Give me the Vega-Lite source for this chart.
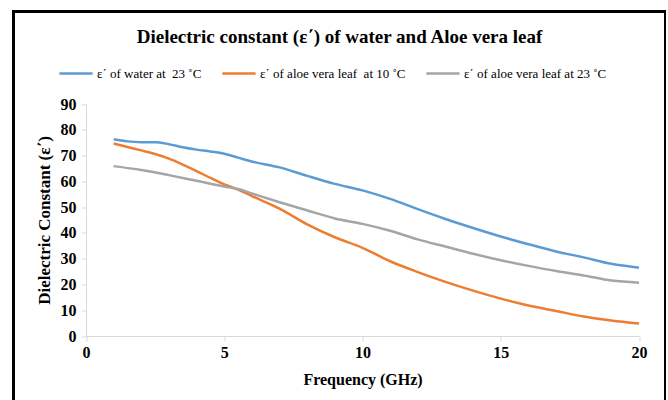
{
  "$schema": "https://vega.github.io/schema/vega-lite/v6.json",
  "width": 652,
  "height": 400,
  "autosize": {"type": "none"},
  "padding": {"left": 13.5, "top": 11.5, "right": 0, "bottom": 0},
  "background": "white",
  "title": {
    "text": "Dielectric constant (ε΄) of water and Aloe vera leaf",
    "font": "Liberation Serif",
    "fontSize": 19,
    "fontWeight": "bold",
    "color": "black",
    "anchor": "middle",
    "frame": "group",
    "offset": -35
  },
  "config": {
    "view": {"stroke": "black", "strokeWidth": 3},
    "font": "Liberation Serif"
  },
  "data": {
    "values": [
      {"f": 1, "v": 76.3, "s": "ε΄ of water at\u00a0 23 ˚C"},
      {"f": 1.5, "v": 75.5, "s": "ε΄ of water at\u00a0 23 ˚C"},
      {"f": 2, "v": 75.2, "s": "ε΄ of water at\u00a0 23 ˚C"},
      {"f": 2.5, "v": 75.2, "s": "ε΄ of water at\u00a0 23 ˚C"},
      {"f": 3, "v": 74.4, "s": "ε΄ of water at\u00a0 23 ˚C"},
      {"f": 3.5, "v": 73.2, "s": "ε΄ of water at\u00a0 23 ˚C"},
      {"f": 4, "v": 72.3, "s": "ε΄ of water at\u00a0 23 ˚C"},
      {"f": 4.5, "v": 71.6, "s": "ε΄ of water at\u00a0 23 ˚C"},
      {"f": 5, "v": 70.7, "s": "ε΄ of water at\u00a0 23 ˚C"},
      {"f": 5.5, "v": 69.2, "s": "ε΄ of water at\u00a0 23 ˚C"},
      {"f": 6, "v": 67.7, "s": "ε΄ of water at\u00a0 23 ˚C"},
      {"f": 7, "v": 65.4, "s": "ε΄ of water at\u00a0 23 ˚C"},
      {"f": 8, "v": 62.1, "s": "ε΄ of water at\u00a0 23 ˚C"},
      {"f": 9, "v": 59.0, "s": "ε΄ of water at\u00a0 23 ˚C"},
      {"f": 10, "v": 56.5, "s": "ε΄ of water at\u00a0 23 ˚C"},
      {"f": 11, "v": 53.2, "s": "ε΄ of water at\u00a0 23 ˚C"},
      {"f": 12, "v": 49.2, "s": "ε΄ of water at\u00a0 23 ˚C"},
      {"f": 13, "v": 45.4, "s": "ε΄ of water at\u00a0 23 ˚C"},
      {"f": 14, "v": 41.9, "s": "ε΄ of water at\u00a0 23 ˚C"},
      {"f": 15, "v": 38.6, "s": "ε΄ of water at\u00a0 23 ˚C"},
      {"f": 16, "v": 35.6, "s": "ε΄ of water at\u00a0 23 ˚C"},
      {"f": 17, "v": 32.8, "s": "ε΄ of water at\u00a0 23 ˚C"},
      {"f": 18, "v": 30.5, "s": "ε΄ of water at\u00a0 23 ˚C"},
      {"f": 19, "v": 28.0, "s": "ε΄ of water at\u00a0 23 ˚C"},
      {"f": 20, "v": 26.5, "s": "ε΄ of water at\u00a0 23 ˚C"},
      {"f": 1, "v": 74.7, "s": "ε΄ of aloe vera leaf\u00a0 at 10 ˚C"},
      {"f": 1.5, "v": 73.3, "s": "ε΄ of aloe vera leaf\u00a0 at 10 ˚C"},
      {"f": 2, "v": 72.0, "s": "ε΄ of aloe vera leaf\u00a0 at 10 ˚C"},
      {"f": 2.5, "v": 70.6, "s": "ε΄ of aloe vera leaf\u00a0 at 10 ˚C"},
      {"f": 3, "v": 68.8, "s": "ε΄ of aloe vera leaf\u00a0 at 10 ˚C"},
      {"f": 3.5, "v": 66.5, "s": "ε΄ of aloe vera leaf\u00a0 at 10 ˚C"},
      {"f": 4, "v": 64.0, "s": "ε΄ of aloe vera leaf\u00a0 at 10 ˚C"},
      {"f": 4.5, "v": 61.3, "s": "ε΄ of aloe vera leaf\u00a0 at 10 ˚C"},
      {"f": 5, "v": 58.8, "s": "ε΄ of aloe vera leaf\u00a0 at 10 ˚C"},
      {"f": 5.5, "v": 56.8, "s": "ε΄ of aloe vera leaf\u00a0 at 10 ˚C"},
      {"f": 6, "v": 54.3, "s": "ε΄ of aloe vera leaf\u00a0 at 10 ˚C"},
      {"f": 7, "v": 49.4, "s": "ε΄ of aloe vera leaf\u00a0 at 10 ˚C"},
      {"f": 8, "v": 43.3, "s": "ε΄ of aloe vera leaf\u00a0 at 10 ˚C"},
      {"f": 9, "v": 38.3, "s": "ε΄ of aloe vera leaf\u00a0 at 10 ˚C"},
      {"f": 10, "v": 34.2, "s": "ε΄ of aloe vera leaf\u00a0 at 10 ˚C"},
      {"f": 11, "v": 29.0, "s": "ε΄ of aloe vera leaf\u00a0 at 10 ˚C"},
      {"f": 12, "v": 24.8, "s": "ε΄ of aloe vera leaf\u00a0 at 10 ˚C"},
      {"f": 13, "v": 21.0, "s": "ε΄ of aloe vera leaf\u00a0 at 10 ˚C"},
      {"f": 14, "v": 17.6, "s": "ε΄ of aloe vera leaf\u00a0 at 10 ˚C"},
      {"f": 15, "v": 14.5, "s": "ε΄ of aloe vera leaf\u00a0 at 10 ˚C"},
      {"f": 16, "v": 11.8, "s": "ε΄ of aloe vera leaf\u00a0 at 10 ˚C"},
      {"f": 17, "v": 9.7, "s": "ε΄ of aloe vera leaf\u00a0 at 10 ˚C"},
      {"f": 18, "v": 7.6, "s": "ε΄ of aloe vera leaf\u00a0 at 10 ˚C"},
      {"f": 19, "v": 6.0, "s": "ε΄ of aloe vera leaf\u00a0 at 10 ˚C"},
      {"f": 20, "v": 4.8, "s": "ε΄ of aloe vera leaf\u00a0 at 10 ˚C"},
      {"f": 1, "v": 65.9, "s": "ε΄ of aloe vera leaf at 23 ˚C"},
      {"f": 2, "v": 64.4, "s": "ε΄ of aloe vera leaf at 23 ˚C"},
      {"f": 3, "v": 62.4, "s": "ε΄ of aloe vera leaf at 23 ˚C"},
      {"f": 4, "v": 60.2, "s": "ε΄ of aloe vera leaf at 23 ˚C"},
      {"f": 5, "v": 58.0, "s": "ε΄ of aloe vera leaf at 23 ˚C"},
      {"f": 5.5, "v": 57.0, "s": "ε΄ of aloe vera leaf at 23 ˚C"},
      {"f": 6, "v": 55.3, "s": "ε΄ of aloe vera leaf at 23 ˚C"},
      {"f": 7, "v": 51.9, "s": "ε΄ of aloe vera leaf at 23 ˚C"},
      {"f": 8, "v": 48.7, "s": "ε΄ of aloe vera leaf at 23 ˚C"},
      {"f": 9, "v": 45.6, "s": "ε΄ of aloe vera leaf at 23 ˚C"},
      {"f": 10, "v": 43.5, "s": "ε΄ of aloe vera leaf at 23 ˚C"},
      {"f": 11, "v": 40.8, "s": "ε΄ of aloe vera leaf at 23 ˚C"},
      {"f": 12, "v": 37.5, "s": "ε΄ of aloe vera leaf at 23 ˚C"},
      {"f": 13, "v": 34.7, "s": "ε΄ of aloe vera leaf at 23 ˚C"},
      {"f": 14, "v": 31.9, "s": "ε΄ of aloe vera leaf at 23 ˚C"},
      {"f": 15, "v": 29.4, "s": "ε΄ of aloe vera leaf at 23 ˚C"},
      {"f": 16, "v": 27.2, "s": "ε΄ of aloe vera leaf at 23 ˚C"},
      {"f": 17, "v": 25.2, "s": "ε΄ of aloe vera leaf at 23 ˚C"},
      {"f": 18, "v": 23.5, "s": "ε΄ of aloe vera leaf at 23 ˚C"},
      {"f": 19, "v": 21.5, "s": "ε΄ of aloe vera leaf at 23 ˚C"},
      {"f": 20, "v": 20.7, "s": "ε΄ of aloe vera leaf at 23 ˚C"}
    ]
  },
  "mark": {"type": "line", "strokeWidth": 2.5, "interpolate": "monotone"},
  "encoding": {
    "x": {
      "field": "f",
      "type": "quantitative",
      "scale": {"domain": [0, 20], "range": [72.5, 625.5], "nice": false, "zero": false},
      "axis": {
        "title": "Frequency (GHz)",
        "values": [0, 5, 10, 15, 20],
        "offset": -75.5,
        "grid": false,
        "labelFlush": false,
        "domainColor": "#d9d9d9",
        "tickColor": "#d9d9d9",
        "tickSize": 5,
        "labelFont": "Liberation Serif",
        "labelFontSize": 16,
        "labelFontWeight": "bold",
        "labelColor": "black",
        "labelPadding": 3,
        "titleFont": "Liberation Serif",
        "titleFontSize": 16,
        "titleFontWeight": "bold",
        "titleColor": "black",
        "titlePadding": 11
      }
    },
    "y": {
      "field": "v",
      "type": "quantitative",
      "scale": {"domain": [0, 90], "range": [324.5, 92.5], "nice": false, "zero": false},
      "axis": {
        "title": "Dielectric Constant (ε΄)",
        "values": [0, 10, 20, 30, 40, 50, 60, 70, 80, 90],
        "offset": -72.5,
        "grid": false,
        "labelFlush": false,
        "domainColor": "#d9d9d9",
        "tickColor": "#d9d9d9",
        "tickSize": 5,
        "labelFont": "Liberation Serif",
        "labelFontSize": 16,
        "labelFontWeight": "bold",
        "labelColor": "black",
        "labelPadding": 5,
        "titleFont": "Liberation Serif",
        "titleFontSize": 17,
        "titleFontWeight": "bold",
        "titleColor": "black",
        "titlePadding": 7
      }
    },
    "color": {
      "field": "s",
      "type": "nominal",
      "sort": ["ε΄ of water at\u00a0 23 ˚C", "ε΄ of aloe vera leaf\u00a0 at 10 ˚C", "ε΄ of aloe vera leaf at 23 ˚C"],
      "scale": {
        "domain": ["ε΄ of water at\u00a0 23 ˚C", "ε΄ of aloe vera leaf\u00a0 at 10 ˚C", "ε΄ of aloe vera leaf at 23 ˚C"],
        "range": ["#5B9BD5", "#ED7D31", "#A5A5A5"]
      },
      "legend": {
        "title": null,
        "orient": "none",
        "direction": "horizontal",
        "legendX": 44.5,
        "legendY": 44,
        "symbolType": "stroke",
        "symbolSize": 1100,
        "symbolStrokeWidth": 2.5,
        "labelFont": "Liberation Serif",
        "labelFontSize": 13,
        "labelColor": "black",
        "labelOffset": 3,
        "columnPadding": 15,
        "labelLimit": 300
      }
    }
  }
}
